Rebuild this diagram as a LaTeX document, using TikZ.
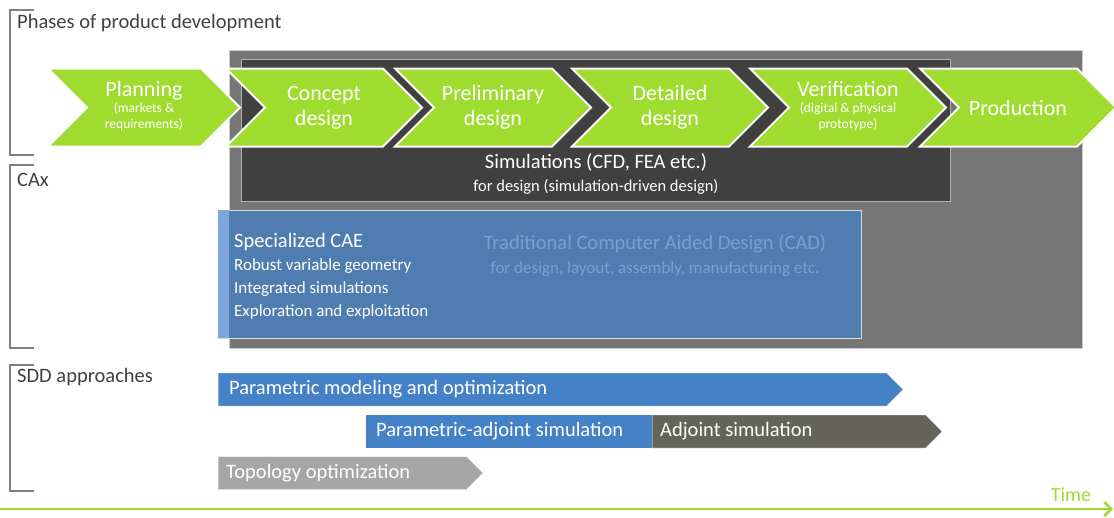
\documentclass[tikz,border=0pt]{standalone}
\usepackage{fontspec}
\setmainfont{Carlito}
\usepackage{xcolor}
\usepackage{tikz}
\usetikzlibrary{positioning,arrows.meta,shapes.symbols}

\definecolor{phasegreen}{RGB}{160,220,48}
\definecolor{labelgray}{RGB}{64,64,64}
\definecolor{bracketgray}{RGB}{128,128,128}
\definecolor{outergray}{RGB}{118,118,118}
\definecolor{simdark}{RGB}{64,64,64}
\definecolor{cadblue}{RGB}{80,125,176}
\definecolor{cadstrip}{RGB}{125,167,219}
\definecolor{cadfaint}{RGB}{122,159,208}
\definecolor{barblue}{RGB}{69,129,198}
\definecolor{adjgray}{RGB}{100,100,92}
\definecolor{topogray}{RGB}{166,166,166}
\newcommand{\phasenote}[1]{{\fontsize{13.5}{16}\selectfont\begin{tabular}{@{}c@{}}#1\end{tabular}}}

\begin{document}
\begin{tikzpicture}[
    x=1pt, y=-1pt,
    phase/.style={signal, signal to=east, signal from=west, signal pointer angle=90,
        fill=phasegreen, draw=white, line width=2pt, minimum height=78pt,
        minimum width=196pt, inner sep=0pt, text=white, align=center,
        font=\fontsize{22}{25}\selectfont},
    sectlabel/.style={anchor=west, text=labelgray, inner sep=0pt, font=\fontsize{20.5}{22}\selectfont},
    bracket/.style={draw=bracketgray, line width=1.2pt},
    panel/.style={rectangle, anchor=north west, inner sep=0pt},
    cadline/.style={anchor=west, inner sep=0pt, text=white, font=\fontsize{17}{19}\selectfont},
    sddbar/.style={signal, signal to=east, signal pointer angle=90, anchor=west,
        minimum height=33pt, inner sep=0pt, draw=white, line width=0.4pt},
    sddplain/.style={rectangle, anchor=west, minimum height=33pt, inner sep=0pt},
    bartext/.style={inner sep=0pt, text=white, font=\fontsize{20.5}{22}\selectfont}
]
\useasboundingbox (0,0) rectangle (1114,517);

% Section brackets and labels
\draw[bracket] (34,10) -| (10,155) -- (34,155);
\draw[bracket] (34,165) -| (10,348) -- (34,348);
\draw[bracket] (34,365) -| (10,491) -- (34,491);
\node[sectlabel] (lphases) at (17,23) {Phases of product development};
\node[sectlabel] (lcax) at (17,180) {CAx};
\node[sectlabel] (lsdd) at (17,377) {SDD approaches};

% CAx panels
\node[panel, fill=outergray, draw=gray!40, minimum width=853pt, minimum height=298pt] (outer) at (229,50) {};
\node[panel, fill=simdark, draw=gray!60, minimum width=709pt, minimum height=142pt] (simbox) at (241,59) {};
\node[text=white, font=\fontsize{20.5}{22}\selectfont] (simtitle) at (596,162) {Simulations (CFD, FEA etc.)};
\node[text=white, font=\fontsize{16.5}{18}\selectfont] (simsub) at (596,187) {for design (simulation-driven design)};

% Phases
\node[phase, minimum width=192pt] (planning) at (144,107.5) {Planning\\[-1pt]\phasenote{(markets \&\\requirements)}};
\node[phase] (concept) at (324,107.5) {Concept\\design};
\node[phase] (prelim) at (493,107.5) {Preliminary\\design};
\node[phase] (detailed) at (670,107.5) {Detailed\\design};
\node[phase] (verif) at (848,107.5) {Verification\\[-1pt]\phasenote{(digital \& physical\\prototype)}};
\node[phase] (production) at (1018,107.5) {Production};

% CAD panel
\node[panel, fill=cadblue, draw=gray!30, minimum width=643pt, minimum height=128pt] (cad) at (218,210) {};
\node[panel, fill=cadstrip, minimum width=11pt, minimum height=128pt] (cadedge) at (218,210) {};
\node[cadline, font=\fontsize{20.5}{22}\selectfont] (cae) at (234,242) {Specialized CAE};
\node[cadline] (cae1) at (234,266) {Robust variable geometry};
\node[cadline] (cae2) at (234,289) {Integrated simulations};
\node[cadline] (cae3) at (234,312) {Exploration and exploitation};
\node[text=cadfaint, font=\fontsize{20.5}{22}\selectfont] (cadtitle) at (655,244) {Traditional Computer Aided Design (CAD)};
\node[text=cadfaint, font=\fontsize{17}{19}\selectfont] (cadsub) at (655,269) {for design, layout, assembly, manufacturing etc.};

% SDD approaches
\node[sddbar, fill=barblue, minimum width=685pt] (param) at (218,389.5) {};
\node[bartext, anchor=west, right=11pt of param.west] (paramtext) {Parametric modeling and optimization};
\node[sddplain, fill=barblue, minimum width=286pt] (padj) at (366,431.5) {};
\node[sddbar, fill=adjgray, minimum width=290pt] (adj) at (652,431.5) {};
\node[bartext, anchor=west, right=10pt of padj.west] (padjtext) {Parametric-adjoint simulation};
\node[bartext, anchor=west, right=8pt of adj.west] (adjtext) {Adjoint simulation};
\node[sddbar, fill=topogray, minimum width=265pt] (topo) at (218,473) {};
\node[bartext, anchor=west, right=8pt of topo.west] (topotext) {Topology optimization};

% Time axis
\coordinate (tstart) at (0,509);
\coordinate (tend) at (1113,509);
\draw[draw=phasegreen, line width=2.5pt, -{Straight Barb[length=7pt,width=14pt]}] (tstart) -- (tend);
\node[text=phasegreen, font=\fontsize{20}{22}\selectfont] (time) at (1071,495) {Time};
\end{tikzpicture}
\end{document}
